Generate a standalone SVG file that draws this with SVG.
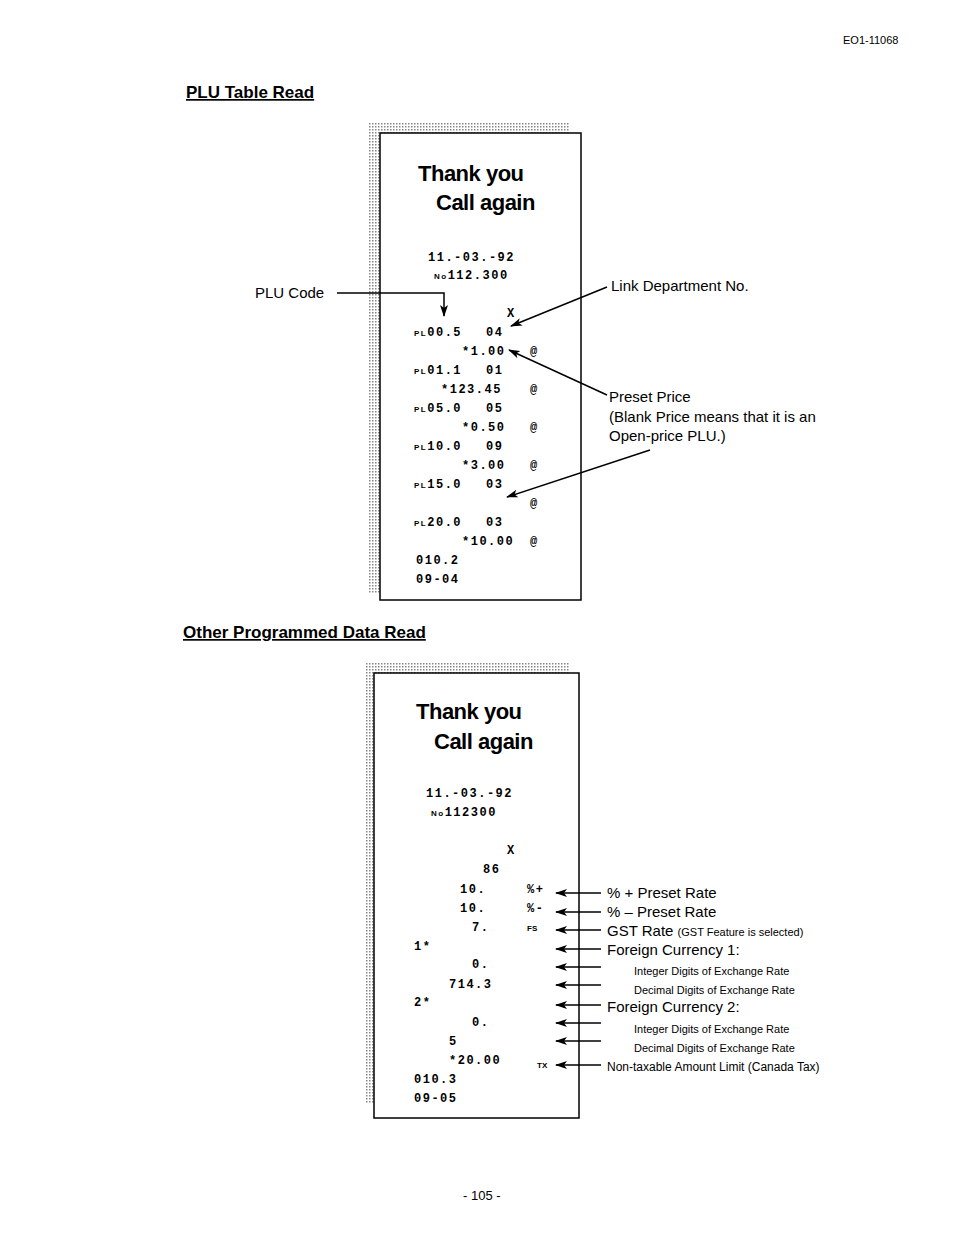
<svg xmlns="http://www.w3.org/2000/svg" width="954" height="1239" viewBox="0 0 954 1239">
<style>
.h{font-family:"Liberation Sans",Arial,sans-serif;font-weight:bold;fill:#000}
.t{font-family:"Liberation Sans",Arial,sans-serif;fill:#000}
.m{font-family:"Liberation Mono",monospace;font-weight:bold;font-size:12px;letter-spacing:1.5px;fill:#000}
.s{font-family:"Liberation Sans",Arial,sans-serif;font-size:8px;font-weight:bold;fill:#000}
.ty{font-family:"Liberation Sans",Arial,sans-serif;font-weight:bold;font-size:22px;letter-spacing:-0.5px;fill:#000}
.ln{stroke:#000;stroke-width:1.5;fill:none}
</style>
<defs>
<pattern id="dots" width="3" height="3" patternUnits="userSpaceOnUse"><rect width="3" height="3" fill="#fff"/><rect width="1.5" height="1.5" fill="#888"/></pattern>
<marker id="ar" markerWidth="12" markerHeight="8" refX="11" refY="4" orient="auto" markerUnits="userSpaceOnUse"><path d="M0,0 L12,4 L0,8 L3,4 z" fill="#000"/></marker>
</defs>
<text class="t" x="843" y="44" font-size="11">EO1-11068</text>
<text class="h" x="186" y="98" font-size="17" text-decoration="underline">PLU Table Read</text>
<text class="h" x="183" y="638" font-size="17" text-decoration="underline">Other Programmed Data Read</text>
<text class="t" x="463" y="1200" font-size="13">- 105 -</text>

<g id="receipt1">
<rect x="369" y="123" width="201" height="10" fill="url(#dots)"/>
<rect x="369" y="123" width="11" height="470" fill="url(#dots)"/>
<rect x="380" y="133" width="201" height="467" fill="#fff" stroke="#000" stroke-width="1.5"/>
<text class="ty" x="418" y="181">Thank you</text>
<text class="ty" x="436" y="210">Call again</text>
<text class="m" x="428" y="261">11.-03.-92</text>
<text class="m" x="434" y="279"><tspan class="s">No</tspan>112.300</text>
<text class="m" x="507" y="317">X</text>
<text class="m" x="414" y="336"><tspan class="s">PL</tspan>00.5</text><text class="m" x="486" y="336">04</text>
<text class="m" x="462" y="355">*1.00</text><text class="m" x="530" y="355">@</text>
<text class="m" x="414" y="374"><tspan class="s">PL</tspan>01.1</text><text class="m" x="486" y="374">01</text>
<text class="m" x="441" y="393">*123.45</text><text class="m" x="530" y="393">@</text>
<text class="m" x="414" y="412"><tspan class="s">PL</tspan>05.0</text><text class="m" x="486" y="412">05</text>
<text class="m" x="462" y="431">*0.50</text><text class="m" x="530" y="431">@</text>
<text class="m" x="414" y="450"><tspan class="s">PL</tspan>10.0</text><text class="m" x="486" y="450">09</text>
<text class="m" x="462" y="469">*3.00</text><text class="m" x="530" y="469">@</text>
<text class="m" x="414" y="488"><tspan class="s">PL</tspan>15.0</text><text class="m" x="486" y="488">03</text>
<text class="m" x="530" y="507">@</text>
<text class="m" x="414" y="526"><tspan class="s">PL</tspan>20.0</text><text class="m" x="486" y="526">03</text>
<text class="m" x="462" y="545">*10.00</text><text class="m" x="530" y="545">@</text>
<text class="m" x="416" y="564">010.2</text>
<text class="m" x="416" y="583">09-04</text>
</g>

<g id="receipt2">
<rect x="365" y="663" width="205" height="10" fill="url(#dots)"/>
<rect x="365" y="663" width="9" height="440" fill="url(#dots)"/>
<rect x="374" y="673" width="205" height="445" fill="#fff" stroke="#000" stroke-width="1.5"/>
<text class="ty" x="416" y="719">Thank you</text>
<text class="ty" x="434" y="749">Call again</text>
<text class="m" x="426" y="797">11.-03.-92</text>
<text class="m" x="431" y="816"><tspan class="s">No</tspan>112300</text>
<text class="m" x="507" y="854">X</text>
<text class="m" x="483" y="873">86</text>
<text class="m" x="460" y="893">10.</text><text class="m" x="527" y="893">%+</text>
<text class="m" x="460" y="912">10.</text><text class="m" x="527" y="912">%-</text>
<text class="m" x="472" y="931">7.</text><text class="s" x="527" y="931">FS</text>
<text class="m" x="414" y="950">1*</text>
<text class="m" x="472" y="968">0.</text>
<text class="m" x="449" y="988">714.3</text>
<text class="m" x="414" y="1006">2*</text>
<text class="m" x="472" y="1026">0.</text>
<text class="m" x="449" y="1045">5</text>
<text class="m" x="449" y="1064">*20.00</text><text class="s" x="537" y="1068">TX</text>
<text class="m" x="414" y="1083">010.3</text>
<text class="m" x="414" y="1102">09-05</text>
</g>

<g id="labels">
<text class="t" x="255" y="298" font-size="15">PLU Code</text>
<text class="t" x="611" y="291" font-size="15">Link Department No.</text>
<text class="t" x="609" y="402" font-size="15">Preset Price</text>
<text class="t" x="609" y="422" font-size="15">(Blank Price means that it is an</text>
<text class="t" x="609" y="441" font-size="15">Open-price PLU.)</text>
<text class="t" x="607" y="898" font-size="15">% + Preset Rate</text>
<text class="t" x="607" y="917" font-size="15">% – Preset Rate</text>
<text class="t" x="607" y="936" font-size="15">GST Rate <tspan font-size="11">(GST Feature is selected)</tspan></text>
<text class="t" x="607" y="955" font-size="15">Foreign Currency 1:</text>
<text class="t" x="634" y="975" font-size="11">Integer Digits of Exchange Rate</text>
<text class="t" x="634" y="994" font-size="11">Decimal Digits of Exchange Rate</text>
<text class="t" x="607" y="1012" font-size="15">Foreign Currency 2:</text>
<text class="t" x="634" y="1033" font-size="11">Integer Digits of Exchange Rate</text>
<text class="t" x="634" y="1052" font-size="11">Decimal Digits of Exchange Rate</text>
<text class="t" x="607" y="1071" font-size="12">Non-taxable Amount Limit (Canada Tax)</text>
</g>

<g id="connectors">
<path class="ln" d="M337,293 H444 V316" marker-end="url(#ar)"/>
<path class="ln" d="M607,287 L511,326" marker-end="url(#ar)"/>
<path class="ln" d="M607,395 L509,350" marker-end="url(#ar)"/>
<path class="ln" d="M650,450 L507,497" marker-end="url(#ar)"/>
<path class="ln" d="M601,893 H556" marker-end="url(#ar)"/>
<path class="ln" d="M601,912 H556" marker-end="url(#ar)"/>
<path class="ln" d="M601,930 H556" marker-end="url(#ar)"/>
<path class="ln" d="M601,949 H556" marker-end="url(#ar)"/>
<path class="ln" d="M601,967 H556" marker-end="url(#ar)"/>
<path class="ln" d="M601,985 H556" marker-end="url(#ar)"/>
<path class="ln" d="M601,1005 H556" marker-end="url(#ar)"/>
<path class="ln" d="M601,1023 H556" marker-end="url(#ar)"/>
<path class="ln" d="M601,1041 H556" marker-end="url(#ar)"/>
<path class="ln" d="M601,1065 H556" marker-end="url(#ar)"/>
</g>
</svg>
